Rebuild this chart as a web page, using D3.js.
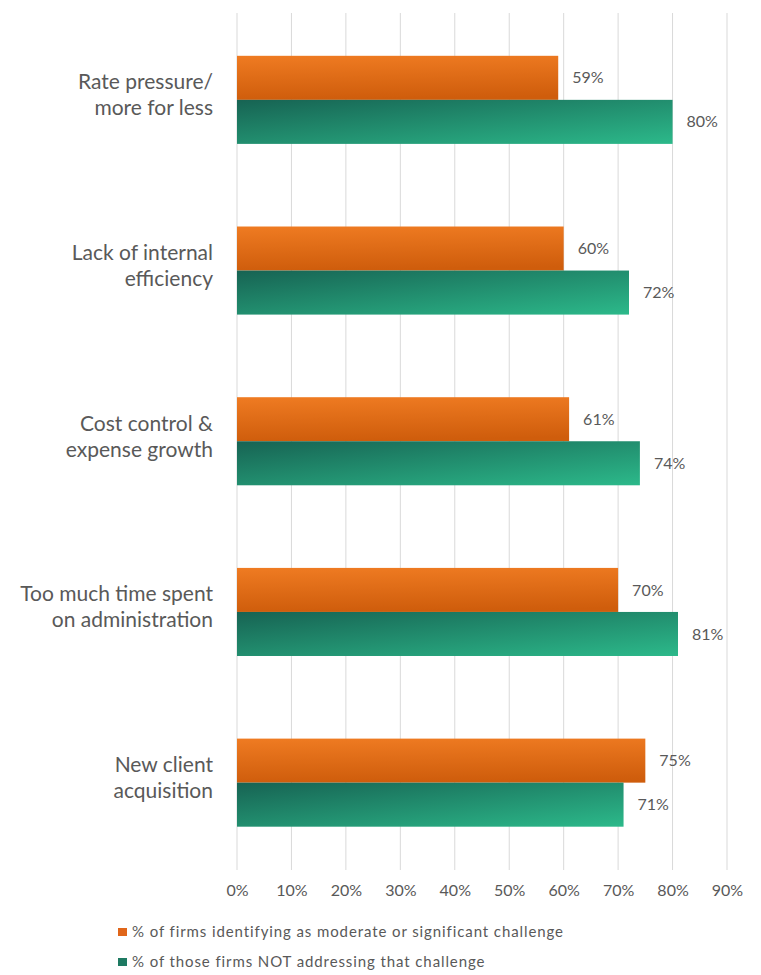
<html>
<head>
<style>
  body { margin: 0; background: #fff; }
  svg text { font-family: Lato, "Open Sans", sans-serif; fill: #595959; }
</style>
</head>
<body>
<svg id="chart" width="761" height="975"></svg>
<script src="https://d3js.org/d3.v7.min.js"></script>
<script>
  // data
  let categories = [
    "Rate pressure/|more for less",
    "Lack of internal|efficiency",
    "Cost control &|expense growth",
    "Too much time spent|on administration",
    "New client|acquisition"
  ]
  let challenged = [59, 60, 61, 70, 75]
  let notAddressing = [80, 72, 74, 81, 71]
  let ticks = [0, 10, 20, 30, 40, 50, 60, 70, 80, 90]
  let seriesNames = [
    "% of firms identifying as moderate or significant challenge",
    "% of those firms NOT addressing that challenge"
  ]

  let svg = d3.select("#chart")
  let defs = svg.append("defs")

  let orangeGrad = defs.append("linearGradient").attr("id", "gOrange")
    .attr("x1", 0).attr("y1", 0).attr("x2", 0.1).attr("y2", 1)
  orangeGrad.append("stop").attr("offset", "0%").attr("stop-color", "#ef7b22")
  orangeGrad.append("stop").attr("offset", "100%").attr("stop-color", "#cf5d0c")

  let tealGrad = defs.append("linearGradient").attr("id", "gTeal")
    .attr("x1", 0).attr("y1", 0).attr("x2", 1).attr("y2", 1)
  tealGrad.append("stop").attr("offset", "0%").attr("stop-color", "#176353")
  tealGrad.append("stop").attr("offset", "100%").attr("stop-color", "#2cb98a")

  let x = d3.scaleLinear().domain([0, 90]).range([237, 727])
  let y = d3.scaleBand().domain(categories).range([14.5, 868])
    .paddingInner(0.484).paddingOuter(0.242)
  let sub = d3.scaleBand().domain([0, 1]).range([0, y.bandwidth()])

  // gridlines
  svg.append("g").selectAll("line").data(ticks).join("line")
    .attr("x1", d => x(d)).attr("x2", d => x(d))
    .attr("y1", 13).attr("y2", 870)
    .attr("stroke", "#d9d9d9").attr("stroke-width", 1)

  // x axis labels
  let xAxis = d3.axisBottom(x).tickValues(ticks).tickSize(0).tickFormat(d => d + "%")
  let gx = svg.append("g").attr("transform", "translate(0,882)").call(xAxis)
  gx.select(".domain").remove()
  gx.selectAll("text").style("font-size", "16px").attr("fill", "#595959")

  let rows = categories.map((c, i) => ({ c, vals: [challenged[i], notAddressing[i]] }))
  let fills = ["url(#gOrange)", "url(#gTeal)"]

  let group = svg.append("g").selectAll("g").data(rows).join("g")
    .attr("transform", d => `translate(0,${y(d.c)})`)

  group.selectAll("rect").data(d => d.vals).join("rect")
    .attr("x", x(0))
    .attr("y", (d, i) => sub(i))
    .attr("width", d => x(d) - x(0))
    .attr("height", sub.bandwidth())
    .attr("fill", (d, i) => fills[i])

  group.selectAll("text.val").data(d => d.vals).join("text")
    .attr("class", "val")
    .attr("x", d => x(d) + 14)
    .attr("y", (d, i) => sub(i) + sub.bandwidth() / 2)
    .attr("dy", "0.35em")
    .style("font-size", "16px")
    .text(d => d + "%")

  // category labels
  group.append("text")
    .attr("text-anchor", "end")
    .style("font-size", "21px")
    .selectAll("tspan").data(d => d.c.split("|")).join("tspan")
    .attr("x", 213)
    .attr("y", (d, i, n) => y.bandwidth() / 2 - 5 + (i - (n.length - 1) / 2) * 26)
    .attr("dy", "0.35em")
    .text(d => d)

  // legend
  let legendColors = ["#e0661a", "#1e7a62"]
  let legend = svg.append("g").selectAll("g").data(seriesNames).join("g")
    .attr("transform", (d, i) => `translate(118,${928 + i * 30})`)
  legend.append("rect").attr("width", 9).attr("height", 8)
    .attr("fill", (d, i) => legendColors[i])
  legend.append("text").attr("x", 14).attr("y", 4).attr("dy", "0.35em")
    .style("font-size", "15px").style("letter-spacing", "0.9px").text(d => d)
</script>
</body>
</html>
